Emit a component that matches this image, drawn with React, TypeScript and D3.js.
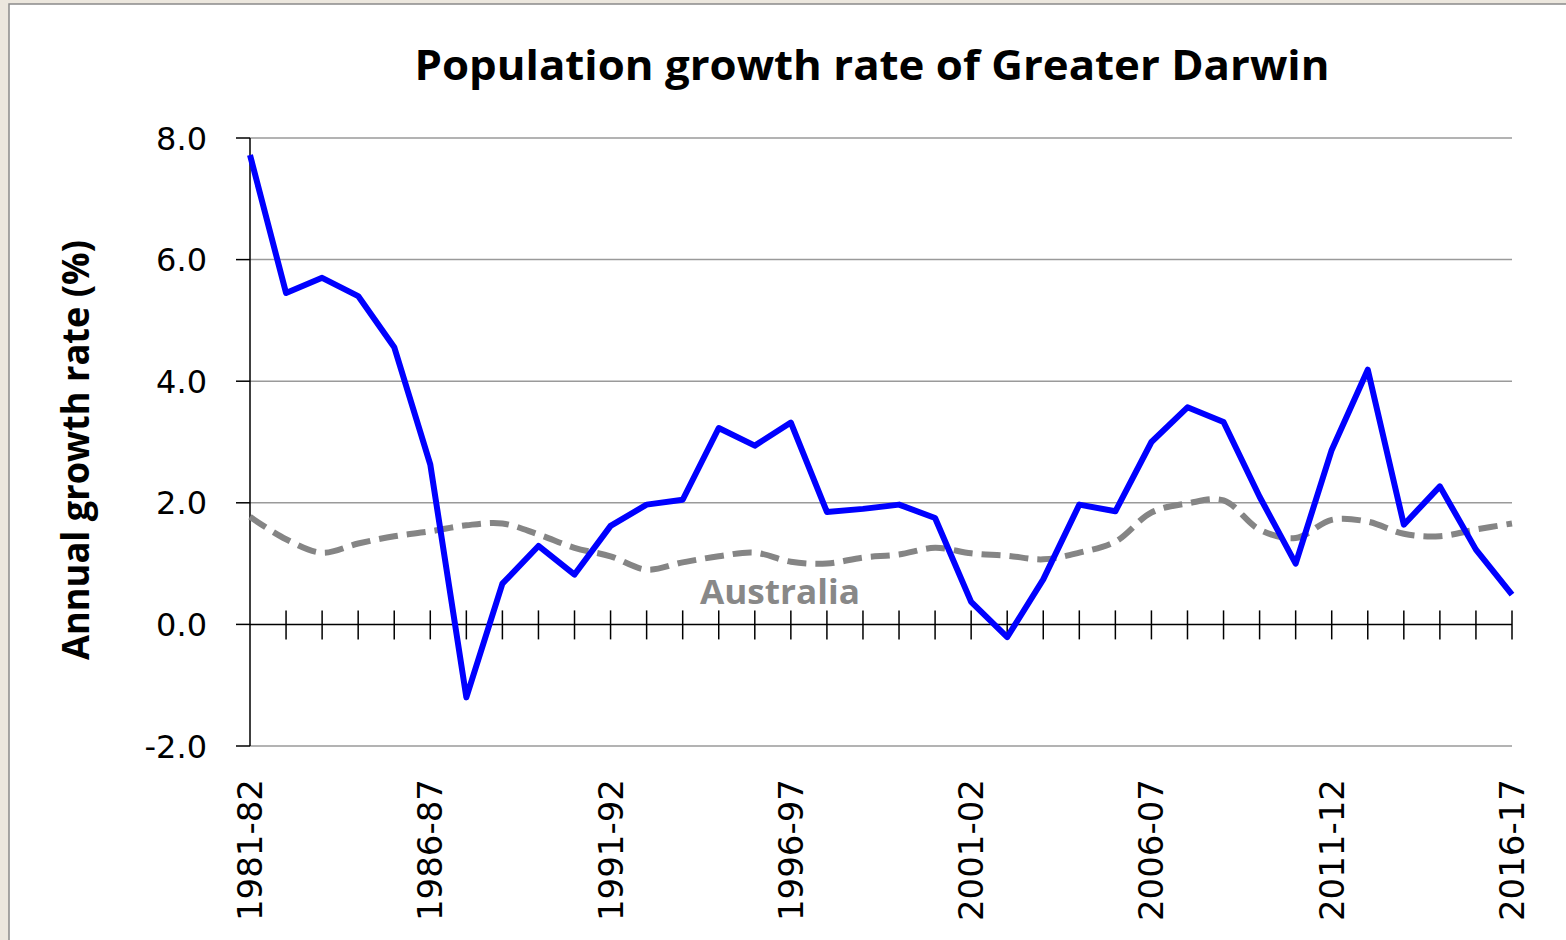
import React from "react";
import * as d3 from "d3";

const categories = [
  "1981-82","1982-83","1983-84","1984-85","1985-86","1986-87","1987-88","1988-89","1989-90","1990-91",
  "1991-92","1992-93","1993-94","1994-95","1995-96","1996-97","1997-98","1998-99","1999-00","2000-01",
  "2001-02","2002-03","2003-04","2004-05","2005-06","2006-07","2007-08","2008-09","2009-10","2010-11",
  "2011-12","2012-13","2013-14","2014-15","2015-16","2016-17",
];
const darwin = [
  7.72, 5.45, 5.70, 5.40, 4.56, 2.63, -1.20, 0.67, 1.29, 0.82,
  1.62, 1.97, 2.05, 3.23, 2.94, 3.32, 1.85, 1.90, 1.97, 1.75,
  0.37, -0.21, 0.74, 1.97, 1.86, 3.00, 3.57, 3.33, 2.10, 1.00,
  2.87, 4.19, 1.64, 2.27, 1.23, 0.49,
];
const australia = [
  1.77, 1.40, 1.18, 1.33, 1.45, 1.53, 1.63, 1.66, 1.48, 1.26,
  1.12, 0.90, 1.02, 1.12, 1.18, 1.03, 1.00, 1.10, 1.15, 1.26,
  1.17, 1.13, 1.07, 1.18, 1.36, 1.84, 1.99, 2.04, 1.56, 1.42,
  1.72, 1.69, 1.49, 1.45, 1.56, 1.66,
];
const yTicks = [-2, 0, 2, 4, 6, 8];
const yTickLabels = ["-2.0", "0.0", "2.0", "4.0", "6.0", "8.0"];
const gridValues = [-2, 2, 4, 6, 8];
const labelCategories = ["1981-82","1986-87","1991-92","1996-97","2001-02","2006-07","2011-12","2016-17"];

const W = 1566;
const H = 940;

export default function App() {
  const x = d3.scalePoint<string>().domain(categories).range([250, 1512]);
  const y = d3.scaleLinear().domain([-2, 8]).range([746, 138]);

  const darwinLine = d3
    .line<number>()
    .x((_, i) => x(categories[i]) as number)
    .y((d) => y(d))
    .curve(d3.curveLinear);
  const ausLine = d3
    .line<number>()
    .x((_, i) => x(categories[i]) as number)
    .y((d) => y(d))
    .curve(d3.curveCatmullRom.alpha(0.5));

  const y0 = y(0);
  const x0 = 250;
  const x1 = 1512;

  return (
    <svg
      width={W}
      height={H}
      style={{ position: "absolute", left: 0, top: 0, display: "block" }}
    >
      <rect x={0} y={0} width={W} height={H} fill="#ece7de" />
      <rect x={9} y={4} width={W} height={H} fill="#ffffff" stroke="#8a8a8a" strokeWidth={1.5} />

      {/* title */}
      <text
        x={872}
        y={80}
        textAnchor="middle"
        fontFamily="'Open Sans', sans-serif"
        fontWeight={700}
        fontSize={41}
        textLength={915}
        lengthAdjust="spacingAndGlyphs"
        fill="#000"
      >
        Population growth rate of Greater Darwin
      </text>

      {/* gridlines */}
      {gridValues.map((v) => (
        <line key={"g" + v} x1={x0} x2={x1} y1={y(v)} y2={y(v)} stroke="#9a9a9a" strokeWidth={1.5} />
      ))}

      {/* y axis */}
      <line x1={x0} x2={x0} y1={y(8)} y2={y(-2)} stroke="#000" strokeWidth={1.5} />
      {yTicks.map((v, i) => (
        <g key={"yt" + v}>
          <line x1={236} x2={x0} y1={y(v)} y2={y(v)} stroke="#000" strokeWidth={1.5} />
          <text
            x={207}
            y={y(v)}
            dy="0.36em"
            textAnchor="end"
            fontFamily="'DejaVu Sans', sans-serif"
            fontSize={32}
            fill="#000"
          >
            {yTickLabels[i]}
          </text>
        </g>
      ))}

      {/* x axis at zero */}
      <line x1={x0} x2={x1} y1={y0} y2={y0} stroke="#000" strokeWidth={1.5} />
      {categories.slice(1).map((c) => (
        <line
          key={"xt" + c}
          x1={x(c) as number}
          x2={x(c) as number}
          y1={y0 - 14}
          y2={y0 + 15}
          stroke="#000"
          strokeWidth={1.5}
        />
      ))}

      {/* x labels */}
      {labelCategories.map((c) => {
        const cx = (x(c) as number) + 12;
        return (
          <text
            key={"xl" + c}
            transform={`translate(${cx},779) rotate(-90)`}
            textAnchor="end"
            fontFamily="'DejaVu Sans', sans-serif"
            fontSize={34}
            fill="#000"
          >
            {c}
          </text>
        );
      })}

      {/* y axis title */}
      <text
        transform={`translate(89,450) rotate(-90)`}
        textAnchor="middle"
        fontFamily="'Open Sans', sans-serif"
        fontWeight={700}
        fontSize={38}
        textLength={420}
        lengthAdjust="spacingAndGlyphs"
        fill="#000"
      >
        Annual growth rate  (%)
      </text>

      {/* series */}
      <path
        d={ausLine(australia) || ""}
        fill="none"
        stroke="#858585"
        strokeWidth={6}
        strokeDasharray="19 9"
      />
      <path
        d={darwinLine(darwin) || ""}
        fill="none"
        stroke="#0000ff"
        strokeWidth={6}
        strokeLinejoin="round"
      />

      <text
        x={700}
        y={604}
        fontFamily="'Open Sans', sans-serif"
        fontWeight={700}
        fontSize={34}
        textLength={160}
        lengthAdjust="spacingAndGlyphs"
        fill="#888888"
      >
        Australia
      </text>
    </svg>
  );
}
